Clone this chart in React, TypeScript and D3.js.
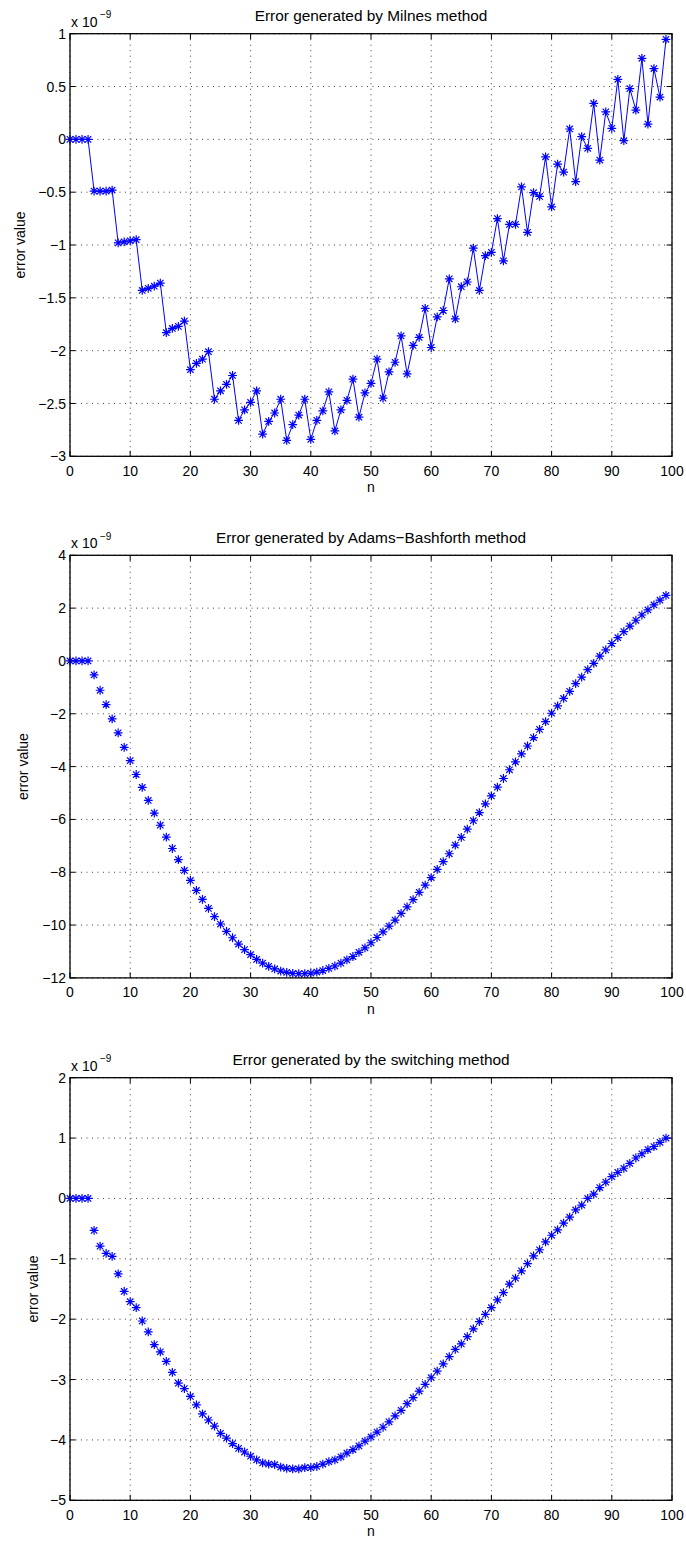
import React from "react";
import * as d3 from "d3";

// n = 0..99 (index of each value)
const milnesError = [
  0, 0, 0, 0, -0.49, -0.49, -0.49, -0.48, -0.98, -0.97,
  -0.96, -0.95, -1.43, -1.41, -1.39, -1.36, -1.83, -1.79, -1.77, -1.72,
  -2.18, -2.12, -2.08, -2.01, -2.46, -2.38, -2.32, -2.235, -2.66, -2.56,
  -2.49, -2.38, -2.79, -2.67, -2.59, -2.46, -2.85, -2.7, -2.61, -2.46,
  -2.84, -2.66, -2.57, -2.39, -2.76, -2.56, -2.47, -2.27, -2.63, -2.4,
  -2.31, -2.08, -2.45, -2.2, -2.11, -1.86, -2.22, -1.95, -1.875, -1.6,
  -1.97, -1.68, -1.62, -1.32, -1.7, -1.395, -1.35, -1.03, -1.43, -1.1,
  -1.07, -0.75, -1.15, -0.805, -0.805, -0.45, -0.88, -0.505, -0.54, -0.165,
  -0.64, -0.234, -0.31, 0.098, -0.4, 0.025, -0.085, 0.34, -0.196, 0.26,
  0.104, 0.568, -0.013, 0.48, 0.277, 0.767, 0.145, 0.67, 0.4, 0.947,
];

const adamsError = [
  0, 0, 0, 0, -0.53, -1.11, -1.65, -2.19, -2.72, -3.27,
  -3.77, -4.3, -4.79, -5.28, -5.76, -6.22, -6.67, -7.1, -7.52, -7.93,
  -8.31, -8.69, -9.03, -9.37, -9.68, -9.96, -10.24, -10.48, -10.72, -10.93,
  -11.12, -11.3, -11.44, -11.56, -11.66, -11.74, -11.79, -11.83, -11.84, -11.84,
  -11.82, -11.78, -11.72, -11.64, -11.55, -11.44, -11.32, -11.19, -11.03, -10.86,
  -10.67, -10.47, -10.26, -10.04, -9.81, -9.56, -9.31, -9.04, -8.76, -8.49,
  -8.2, -7.89, -7.6, -7.3, -6.97, -6.68, -6.37, -6.05, -5.74, -5.41,
  -5.11, -4.78, -4.45, -4.12, -3.82, -3.52, -3.22, -2.9, -2.59, -2.3,
  -1.98, -1.7, -1.42, -1.15, -0.86, -0.61, -0.33, -0.09, 0.18, 0.42,
  0.66, 0.88, 1.11, 1.32, 1.54, 1.74, 1.93, 2.12, 2.3, 2.48,
];

const switchingError = [
  0, 0, 0, 0, -0.53, -0.79, -0.91, -0.96, -1.25, -1.54,
  -1.71, -1.81, -2.03, -2.21, -2.42, -2.54, -2.7, -2.88, -3.06, -3.15,
  -3.28, -3.42, -3.57, -3.67, -3.77, -3.89, -3.97, -4.06, -4.14, -4.2,
  -4.27, -4.33, -4.38, -4.4, -4.41, -4.45, -4.47, -4.48, -4.48, -4.46,
  -4.46, -4.44, -4.4, -4.36, -4.33, -4.28, -4.22, -4.16, -4.1, -4.02,
  -3.95, -3.87, -3.79, -3.7, -3.6, -3.51, -3.4, -3.3, -3.19, -3.08,
  -2.97, -2.86, -2.74, -2.62, -2.5, -2.41, -2.29, -2.16, -2.04, -1.92,
  -1.81, -1.68, -1.56, -1.42, -1.32, -1.2, -1.08, -0.95, -0.85, -0.72,
  -0.61, -0.52, -0.41, -0.31, -0.19, -0.11, 0.0, 0.07, 0.18, 0.27,
  0.36, 0.43, 0.5, 0.58, 0.67, 0.74, 0.81, 0.86, 0.93, 1.0,
];

const xTicks = [0, 10, 20, 30, 40, 50, 60, 70, 80, 90, 100];
const milnesTicks = [-3, -2.5, -2, -1.5, -1, -0.5, 0, 0.5, 1];
const adamsTicks = [-12, -10, -8, -6, -4, -2, 0, 2, 4];
const switchingTicks = [-5, -4, -3, -2, -1, 0, 1, 2];

const titles = [
  "Error generated by Milnes method",
  "Error generated by Adams\u2212Bashforth method",
  "Error generated by the switching method",
];

const xLabel = "n";
const yLabel = "error value";

const FONT = "'Liberation Sans', Arial, Helvetica, sans-serif";
const BLUE = "#0000ff";

const panels = [
  { title: titles[0], values: milnesError, ticks: milnesTicks, line: true, top: 33.7, ylabX: 25 },
  { title: titles[1], values: adamsError, ticks: adamsTicks, line: false, top: 555.3, ylabX: 28.3 },
  { title: titles[2], values: switchingError, ticks: switchingTicks, line: false, top: 1077.7, ylabX: 38.3 },
];

const LEFT = 70;
const RIGHT = 672;
const PH = 422.6;
const TICK = 5.5;

const fmt = (v: number) => {
  const s = String(Math.abs(v));
  return v < 0 ? "\u2212" + s : s;
};

const star = "M-4.4,0H4.4M0,-4.4V4.4M-3.2,-3.2L3.2,3.2M-3.2,3.2L3.2,-3.2";

function Panel({ p }: { p: (typeof panels)[number] }) {
  const top = p.top;
  const bottom = top + PH;
  const x = d3.scaleLinear().domain([0, 100]).range([LEFT, RIGHT]);
  const y = d3
    .scaleLinear()
    .domain([p.ticks[0], p.ticks[p.ticks.length - 1]])
    .range([bottom, top]);
  const lineGen = d3
    .line<number>()
    .x((_, i) => x(i))
    .y((d) => y(d));
  const cx = (LEFT + RIGHT) / 2;
  return (
    <g>
      {/* grid */}
      <g stroke="#000" strokeWidth={1} strokeDasharray="1 4.5" opacity={0.75}>
        {xTicks.map((t) => (
          <line key={"gx" + t} x1={x(t)} x2={x(t)} y1={top} y2={bottom} />
        ))}
        {p.ticks.map((t) => (
          <line key={"gy" + t} x1={LEFT} x2={RIGHT} y1={y(t)} y2={y(t)} />
        ))}
      </g>
      {/* ticks */}
      <g stroke="#000" strokeWidth={1}>
        {xTicks.map((t) => (
          <g key={"tx" + t}>
            <line x1={x(t)} x2={x(t)} y1={bottom} y2={bottom - TICK} />
            <line x1={x(t)} x2={x(t)} y1={top} y2={top + TICK} />
          </g>
        ))}
        {p.ticks.map((t) => (
          <g key={"ty" + t}>
            <line x1={LEFT} x2={LEFT + TICK} y1={y(t)} y2={y(t)} />
            <line x1={RIGHT} x2={RIGHT - TICK} y1={y(t)} y2={y(t)} />
          </g>
        ))}
      </g>
      {/* data */}
      {p.line && (
        <path d={lineGen(p.values) || ""} fill="none" stroke={BLUE} strokeWidth={1} />
      )}
      <g stroke={BLUE} strokeWidth={1.2} fill="none">
        {p.values.map((v, i) => (
          <path key={i} d={star} transform={`translate(${x(i)},${y(v)})`} />
        ))}
      </g>
      {/* box */}
      <rect x={LEFT} y={top} width={RIGHT - LEFT} height={PH} fill="none" stroke="#000" strokeWidth={1.3} />
      {/* tick labels */}
      <g fontFamily={FONT} fontSize={14} fill="#000">
        {xTicks.map((t) => (
          <text key={"lx" + t} x={x(t)} y={bottom + 19.5} textAnchor="middle">
            {fmt(t)}
          </text>
        ))}
        {p.ticks.map((t) => (
          <text key={"ly" + t} x={LEFT - 4} y={y(t)} dy="0.36em" textAnchor="end">
            {fmt(t)}
          </text>
        ))}
      </g>
      {/* exponent */}
      <text x={LEFT + 1} y={top - 7} fontFamily={FONT} fontSize={14}>
        x 10
      </text>
      <text x={LEFT + 30} y={top - 15.5} fontFamily={FONT} fontSize={10}>
        {"\u22129"}
      </text>
      {/* title */}
      <text x={cx} y={top - 12.5} textAnchor="middle" fontFamily={FONT} fontSize={15.4}>
        {p.title}
      </text>
      {/* axis labels */}
      <text x={cx} y={bottom + 36} textAnchor="middle" fontFamily={FONT} fontSize={14}>
        {xLabel}
      </text>
      <text
        transform={`translate(${p.ylabX},${(top + bottom) / 2}) rotate(-90)`}
        textAnchor="middle"
        fontFamily={FONT}
        fontSize={14}
      >
        {yLabel}
      </text>
    </g>
  );
}

export default function App() {
  return (
    <svg
      width={686}
      height={1541}
      style={{ position: "absolute", left: 0, top: 0, background: "#fff" }}
    >
      <rect x={0} y={0} width={686} height={1541} fill="#fff" />
      {panels.map((p, i) => (
        <Panel key={i} p={p} />
      ))}
    </svg>
  );
}
